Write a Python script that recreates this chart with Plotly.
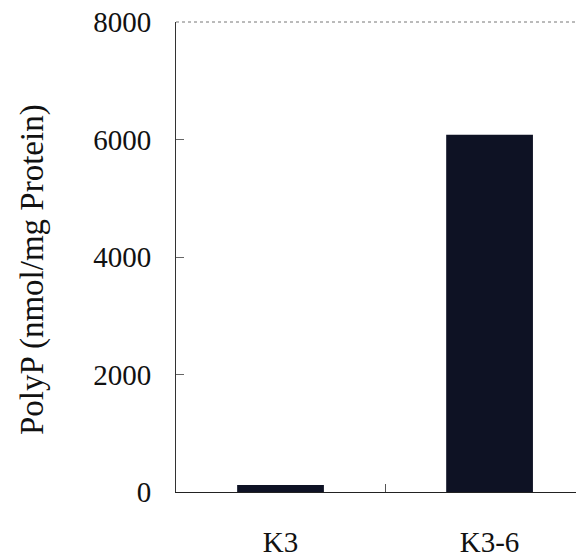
import plotly.graph_objects as go

categories = ["K3", "K3-6"]
polyp_values = [120, 6080]
y_tick_vals = [0, 2000, 4000, 6000, 8000]
y_tick_text = ["0", "2000", "4000", "6000", "8000"]

FONT = "Liberation Serif"

# the page body has an 8px default margin, so offsets compensate for it
fig = go.Figure()
fig.add_trace(go.Bar(
    x=categories,
    y=polyp_values,
    width=0.415,
    marker=dict(color="#0e1224", line=dict(width=0)),
))

fig.update_layout(
    width=584,
    height=558,
    margin=dict(l=168, r=0, t=14, b=74, autoexpand=False),
    paper_bgcolor="white",
    plot_bgcolor="white",
    showlegend=False,
    font=dict(family=FONT, size=29, color="#111111"),
    xaxis=dict(
        type="category",
        range=[-0.5, 1.49],
        automargin=False,
        showline=True,
        linecolor="#222222",
        linewidth=1.2,
        mirror=False,
        ticks="inside",
        tickson="boundaries",
        ticklen=8,
        tickcolor="#555555",
        showgrid=False,
        tickfont=dict(family=FONT, size=29, color="#111111"),
        ticklabelstandoff=24,
        ticklabeloverflow="allow",
    ),
    yaxis=dict(
        range=[0, 8000],
        automargin=False,
        tickvals=y_tick_vals,
        ticktext=y_tick_text,
        showline=True,
        linecolor="#333333",
        linewidth=1,
        ticks="inside",
        ticklen=8,
        tickcolor="#666666",
        showgrid=False,
        zeroline=False,
        tickfont=dict(family=FONT, size=29, color="#111111"),
        ticklabelstandoff=18,
        ticklabeloverflow="allow",
    ),
)

# dotted top frame line
fig.add_shape(type="line", xref="paper", yref="paper", x0=0, x1=1, y0=1, y1=1,
              line=dict(color="#777777", width=1, dash="dot"))

fig.add_annotation(
    text="PolyP (nmol/mg Protein)",
    xref="paper", yref="paper",
    x=(32 - 176) / 416, xanchor="center",
    y=(492 - 270) / 470, yanchor="middle",
    textangle=-90,
    showarrow=False,
    font=dict(family=FONT, size=33, color="#111111"),
)

fig.write_html("out.html")
